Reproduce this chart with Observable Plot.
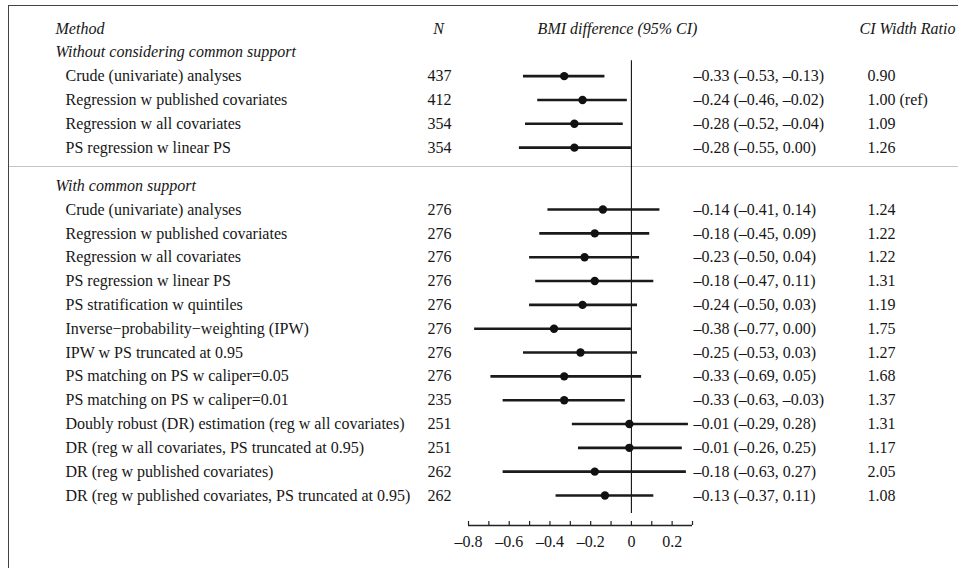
<!DOCTYPE html>
<html><head><meta charset="utf-8">
<script src="https://cdn.jsdelivr.net/npm/d3@7"></script>
<script src="https://cdn.jsdelivr.net/npm/@observablehq/plot@0.6"></script>
<style>
body{margin:0;background:#fff;}
#wrap{position:relative;width:958px;height:568px;overflow:hidden;}
#box{position:absolute;left:8px;top:5px;width:1000px;height:700px;border:1.5px solid #444;box-sizing:border-box;pointer-events:none;}
svg text{font-family:"Liberation Serif","Times New Roman","DejaVu Serif",serif;}
</style></head><body><div id="wrap"><div id="box"></div></div>
<script>
// ---- data ----
const headers = ["Method", "N", "BMI difference (95% CI)", "CI Width Ratio"];
const groups = ["Without considering common support", "With common support"];
const group = [0,0,0,0, 1,1,1,1,1,1,1,1,1,1,1,1,1];
const methods = [
  "Crude (univariate) analyses",
  "Regression w published covariates",
  "Regression w all covariates",
  "PS regression w linear PS",
  "Crude (univariate) analyses",
  "Regression w published covariates",
  "Regression w all covariates",
  "PS regression w linear PS",
  "PS stratification w quintiles",
  "Inverse\u2212probability\u2212weighting (IPW)",
  "IPW w PS truncated at 0.95",
  "PS matching on PS w caliper=0.05",
  "PS matching on PS w caliper=0.01",
  "Doubly robust (DR) estimation (reg w all covariates)",
  "DR (reg w all covariates, PS truncated at 0.95)",
  "DR (reg w published covariates)",
  "DR (reg w published covariates, PS truncated at 0.95)"
];
const nObs = [437,412,354,354, 276,276,276,276,276,276,276,276,235,251,251,262,262];
const est = [-0.33,-0.24,-0.28,-0.28, -0.14,-0.18,-0.23,-0.18,-0.24,-0.38,-0.25,-0.33,-0.33,-0.01,-0.01,-0.18,-0.13];
const lo  = [-0.53,-0.46,-0.52,-0.55, -0.41,-0.45,-0.50,-0.47,-0.50,-0.77,-0.53,-0.69,-0.63,-0.29,-0.26,-0.63,-0.37];
const hi  = [-0.13,-0.02,-0.04,0.00, 0.14,0.09,0.04,0.11,0.03,0.00,0.03,0.05,-0.03,0.28,0.25,0.27,0.11];
const ratio = ["0.90","1.00 (ref)","1.09","1.26", "1.24","1.22","1.22","1.31","1.19","1.75","1.27","1.68","1.37","1.31","1.17","2.05","1.08"];
const xTicks = [-0.8,-0.7,-0.6,-0.5,-0.4,-0.3,-0.2,-0.1,0,0.1,0.2,0.3];
const xLabels = [-0.8,-0.6,-0.4,-0.2,0,0.2];

// ---- layout (row units) ----
const W = 958, H = 568;
const ML = 468, MR = 266, MT = 28, MB = 43;
const col = {method: 55, item: 65, n: 427, nHead: 438, ci: 693, ciHead: 617, ratio: 867, ratioHead: 859};
const fmt = v => (v < 0 ? "\u2013" : "") + Math.abs(v).toFixed(2);
const fmtAx = v => v === 0 ? "0" : (v < 0 ? "\u2013" : "") + Math.abs(v).toFixed(1);

const rows = [], titles = [];
let r = 1, prevG = -1, sepRow = null;
methods.forEach((m, i) => {
  if (group[i] !== prevG) {
    if (prevG !== -1) { sepRow = r - 0.2; r += 0.6; }
    titles.push({row: r, text: groups[group[i]]});
    r += 1; prevG = group[i];
  }
  rows.push({row: r, method: m, n: nObs[i], est: est[i], lo: lo[i], hi: hi[i],
    ci: `${fmt(est[i])} (${fmt(lo[i])}, ${fmt(hi[i])})`, ratio: ratio[i]});
  r += 1;
});
const lastRow = r - 1;
const axisRow = lastRow + 1.26;

const font = '"Liberation Serif", "Times New Roman", "DejaVu Serif", serif';
const txt = (data, opts) => Plot.text(data, {frameAnchor: "left", textAnchor: "start", fontSize: 16, fill: "#161616", fontFamily: font, ...opts});

const sepMark = (index, scales, values, dims) => {
  const ns = "http://www.w3.org/2000/svg";
  const y = Math.round(scales.y(sepRow)) + 0.5;
  const l = document.createElementNS(ns, "line");
  l.setAttribute("x1", 9); l.setAttribute("x2", dims.width);
  l.setAttribute("y1", y); l.setAttribute("y2", y);
  l.setAttribute("stroke", "#c4c4c4"); l.setAttribute("stroke-width", 1.2);
  return l;
};

const chart = Plot.plot({
  width: W, height: H,
  marginLeft: ML, marginRight: MR, marginTop: MT, marginBottom: MB,
  x: {domain: [xTicks[0], xTicks[xTicks.length - 1]], axis: null},
  y: {domain: [0, axisRow], reverse: true, axis: null},
  style: {fontFamily: font, background: "transparent", overflow: "visible"},
  marks: [
    sepMark,
    // headers
    txt([headers[0]], {y: 0, text: d => d, dx: col.method - ML, fontStyle: "italic"}),
    txt([headers[1]], {y: 0, text: d => d, dx: col.nHead - ML, textAnchor: "middle", fontStyle: "italic"}),
    txt([headers[2]], {y: 0, text: d => d, dx: col.ciHead - ML, textAnchor: "middle", fontStyle: "italic"}),
    txt([headers[3]], {y: 0, text: d => d, dx: col.ratioHead - ML, fontStyle: "italic"}),
    txt(titles, {y: "row", text: "text", dx: col.method - ML, fontStyle: "italic"}),
    txt(rows, {y: "row", text: "method", dx: col.item - ML}),
    txt(rows, {y: "row", text: d => String(d.n), dx: col.n - ML}),
    txt(rows, {y: "row", text: "ci", dx: col.ci - ML}),
    txt(rows, {y: "row", text: "ratio", dx: col.ratio - ML}),
    // zero line
    Plot.ruleX([0], {y1: 1.35, y2: lastRow + 0.76, stroke: "#111", strokeWidth: 1.1}),
    // CIs
    Plot.ruleY(rows, {y: "row", x1: "lo", x2: "hi", stroke: "#1a1a1a", strokeWidth: 2.6}),
    Plot.dot(rows, {x: "est", y: "row", r: 4.2, fill: "#111", stroke: "none"}),
    // axis
    Plot.ruleY([axisRow], {x1: xTicks[0], x2: xTicks[xTicks.length - 1], stroke: "#222", strokeWidth: 1.3}),
    Plot.ruleX(xTicks, {x: d => d, y1: axisRow, y2: axisRow - 0.17, stroke: "#222", strokeWidth: 1.2}),
    Plot.text(xLabels, {x: d => d, y: axisRow, dy: 16, text: fmtAx, fontSize: 16, fill: "#161616", fontFamily: font})
  ]
});
document.getElementById("wrap").prepend(chart);
</script></body></html>
